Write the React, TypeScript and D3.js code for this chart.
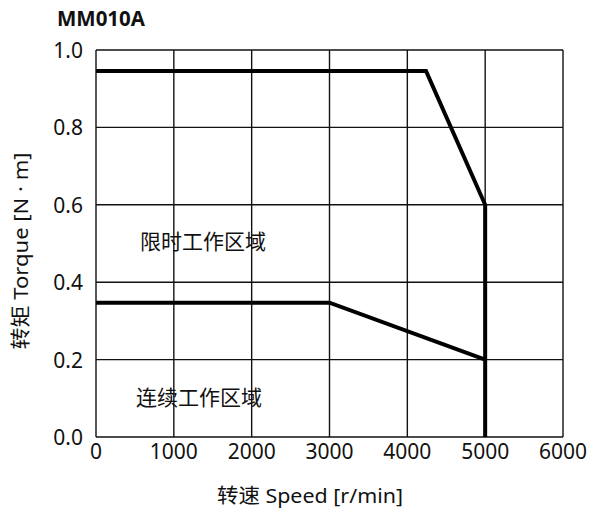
import React from "react";
import * as d3 from "d3";

const xTicks = [0, 1000, 2000, 3000, 4000, 5000, 6000];
const yTicks = [0, 0.2, 0.4, 0.6, 0.8, 1.0];
const peakSpeed = [0, 4240, 5000, 5000];
const peakTorque = [0.946, 0.946, 0.6, 0];
const contSpeed = [0, 3000, 5000];
const contTorque = [0.347, 0.347, 0.2];
const title = "MM010A";
const xLabel = "转速 Speed [r/min]";
const yLabel = "转矩 Torque [N · m]";
const zoneLabels = ["限时工作区域", "连续工作区域"];
const zoneX = [565, 514];
const zoneY = [0.505, 0.1];

const W = 598, H = 510;
const L = 96, R = 563, T = 50, B = 437;
const FONT = "'Noto Sans', 'Noto Sans CJK SC', sans-serif";

export default function App() {
  const x = d3.scaleLinear().domain([0, 6000]).range([L, R]);
  const y = d3.scaleLinear().domain([0, 1]).range([B, T]);
  const mk = (xs: number[], ys: number[]) =>
    d3.line<number>().x((d) => x(d)).y((_, i) => y(ys[i]))(xs) || "";
  return (
    <svg width={W} height={H} style={{ position: "absolute", left: 0, top: 0 }} fontFamily={FONT}>
      <rect width={W} height={H} fill="#fff" />
      <text x={57} y={26} fontSize={22} fontWeight="bold" fill="#111" textLength={88} lengthAdjust="spacingAndGlyphs">{title}</text>
      {xTicks.map((t) => (
        <line key={"gx" + t} x1={x(t)} x2={x(t)} y1={T} y2={B} stroke="#111" strokeWidth={1.4} />
      ))}
      {yTicks.map((t) => (
        <line key={"gy" + t} x1={L} x2={R} y1={y(t)} y2={y(t)} stroke="#111" strokeWidth={1.4} />
      ))}
      {xTicks.map((t) => (
        <text key={"tx" + t} x={x(t)} y={459} fontSize={21} textAnchor="middle" fill="#111">{t}</text>
      ))}
      {yTicks.map((t) => (
        <text key={"ty" + t} x={83} y={y(t) + 8} fontSize={21} textAnchor="end" fill="#111">{t.toFixed(1)}</text>
      ))}
      <path d={mk(peakSpeed, peakTorque)} fill="none" stroke="#000" strokeWidth={4} strokeLinejoin="miter" />
      <path d={mk(contSpeed, contTorque)} fill="none" stroke="#000" strokeWidth={4} />
      {zoneLabels.map((s, i) => (
        <text key={s} x={x(zoneX[i])} y={y(zoneY[i]) + 7} fontSize={21} fill="#111">{s}</text>
      ))}
      <text x={310} y={503} fontSize={20} textAnchor="middle" fill="#111" textLength={186} lengthAdjust="spacingAndGlyphs">{xLabel}</text>
      <text transform={`translate(28,${251}) rotate(-90)`} fontSize={20} textAnchor="middle" fill="#111" textLength={197} lengthAdjust="spacingAndGlyphs">{yLabel}</text>
    </svg>
  );
}
